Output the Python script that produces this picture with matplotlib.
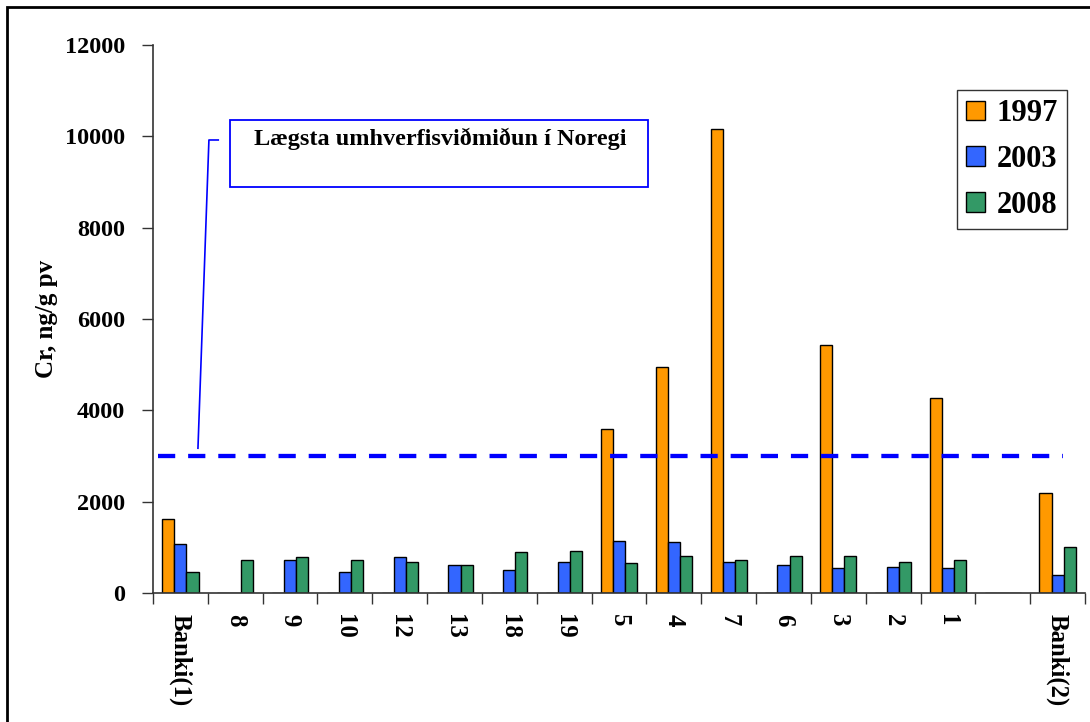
import numpy as np
import matplotlib
matplotlib.use("Agg")
import matplotlib.pyplot as plt
from matplotlib.patches import Rectangle

# gögn lesin af myndinni
stations = ["Banki(1)", "8", "9", "10", "12", "13", "18", "19", "5", "4",
            "7", "6", "3", "2", "1", "", "Banki(2)"]
years = ["1997", "2003", "2008"]
cr_1997 = [1620, 0, 0, 0, 0, 0, 0, 0, 3590, 4940, 10150, 0, 5420, 0, 4270, 0, 2190]
cr_2003 = [1080, 0, 720, 470, 790, 610, 500, 680, 1130, 1110, 680, 610, 540, 570, 540, 0, 400]
cr_2008 = [470, 720, 790, 720, 680, 610, 890, 930, 650, 820, 720, 820, 820, 680, 720, 0, 1000]
threshold = 3000
threshold_label = "Lægsta umhverfisviðmiðun í Noregi"

colors = ["#FF9900", "#3366FF", "#339966"]

plt.rcParams['font.family'] = ['Liberation Serif', 'DejaVu Serif']
plt.rcParams['font.weight'] = 'bold'

W, H = 1090, 722
fig = plt.figure(figsize=(W / 100, H / 100), dpi=100)
ax = fig.add_axes([153 / W, 1 - 593 / H, (1085 - 153) / W, (593 - 45) / H])

x = np.arange(len(stations))
bw = 0.22
for i, (vals, c, lab) in enumerate(zip([cr_1997, cr_2003, cr_2008], colors, years)):
    ax.bar(x + (i - 1) * bw, vals, bw, color=c, edgecolor="black", linewidth=1.0, label=lab)

# viðmiðunarlína
ax.plot([-0.41, 16.09], [threshold, threshold], color="#0000FF", lw=3.1,
        dashes=(4, 3), zorder=3)

ax.set_xlim(-0.5, len(stations) - 0.5)
ax.set_ylim(0, 12000)
ax.set_yticks(np.arange(0, 12001, 2000))
ax.set_xticks(x)
ax.set_xticklabels(stations, rotation=270, fontsize=17.8, fontweight="bold", va="top")
ax.set_xticks(np.arange(-0.5, len(stations), 1), minor=True)
ax.tick_params(axis="x", which="major", length=0, pad=15)
ax.tick_params(axis="x", which="minor", length=8, width=1, direction="out", color="#333333")
ax.tick_params(axis="y", length=8, width=1, direction="out", pad=12, labelsize=17.5, color="#333333")
for t in ax.get_yticklabels():
    t.set_fontweight("bold")
ax.set_ylabel("Cr, ng/g pv", fontsize=18, fontweight="bold")
ax.yaxis.set_label_coords(-0.102, 0.5)

for s in ["top", "right"]:
    ax.spines[s].set_visible(False)
for s in ["left", "bottom"]:
    ax.spines[s].set_color("#333333")
    ax.spines[s].set_linewidth(1.2)

# skýringarkassi með línu
ax.plot([0.32, 0.52, 0.69], [3170, 9920, 9920], color="#0000FF", lw=1.2, clip_on=False)
fig.patches.append(Rectangle((230 / W, 1 - 187 / H), (648 - 230) / W, (187 - 120) / H,
                             transform=fig.transFigure, fill=False,
                             edgecolor="#0000FF", lw=1.3))
fig.text(440 / W, 1 - 139 / H, threshold_label, ha="center", va="center",
         fontsize=17.5, fontweight="bold")

leg = ax.legend(loc="upper left", bbox_to_anchor=(957 / W, 1 - 90 / H),
                bbox_transform=fig.transFigure, fontsize=22, frameon=True,
                fancybox=False, handlelength=0.6, handleheight=0.6,
                handletextpad=0.4, labelspacing=0.55, borderpad=0.3,
                borderaxespad=0)
leg.get_frame().set_edgecolor("black")
leg.get_frame().set_linewidth(1.0)
for t in leg.get_texts():
    t.set_fontweight("bold")

# rammi utan um myndina
fig.patches.append(Rectangle((7 / W, -0.1), 1.2, 1 - 7 / H + 0.1,
                             transform=fig.transFigure, fill=False,
                             edgecolor="black", lw=2))

fig.savefig("out.png", dpi=100)
